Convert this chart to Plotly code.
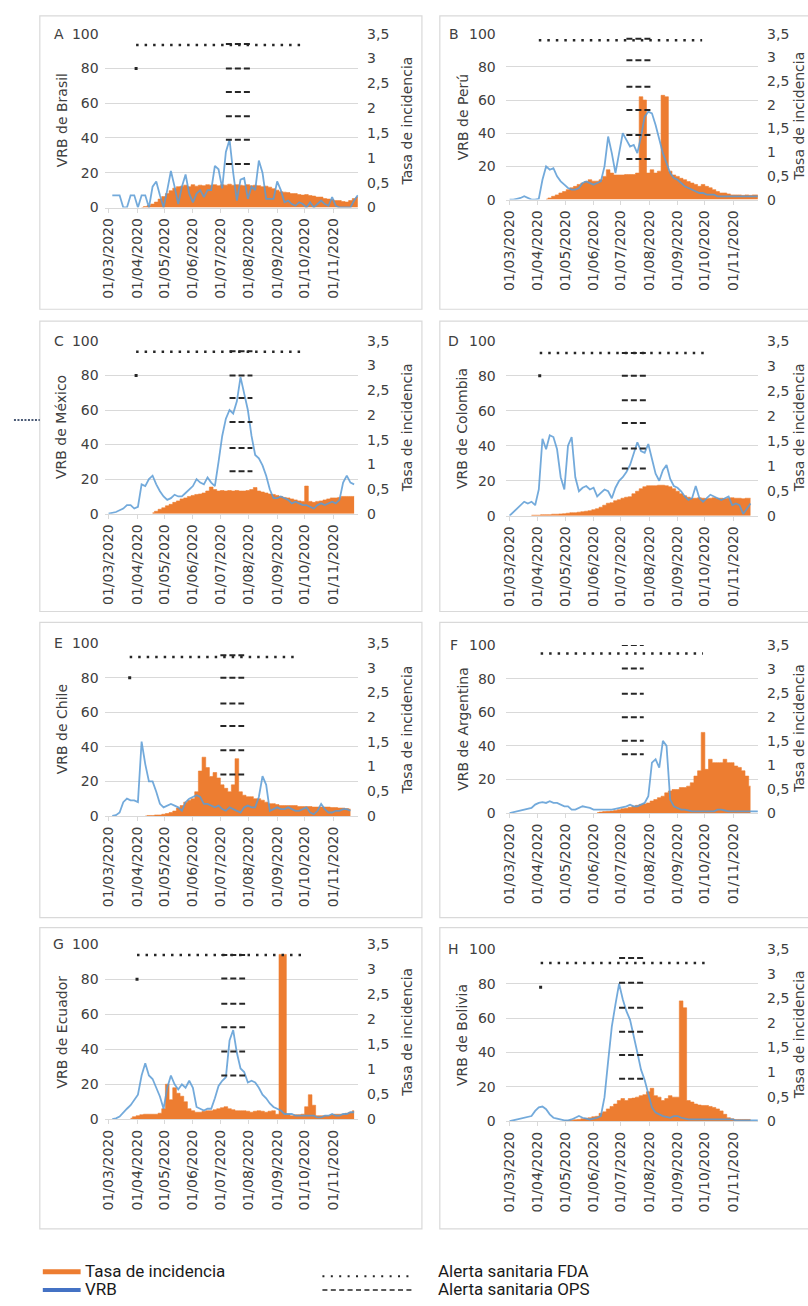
import pandas as pd
import plotly.graph_objects as go

N = 70
# 4-day sampling grid, 26/02/2020 .. 28/11/2020
dates = pd.date_range("2020-02-26", periods=N, freq="4D")
month_ticks = pd.date_range("2020-03-01", "2020-11-01", freq="MS")


def pad(first, vals):
    return [None] * first + list(vals) + [None] * (N - first - len(vals))


letters = ["A", "B", "C", "D", "E", "F", "G", "H"]
countries = ["Brasil", "Perú", "México", "Colombia", "Chile", "Argentina", "Ecuador", "Bolivia"]

# ---- VRB (left axis, 0-100) ----
vrb_brasil = pad(2, [7, 7, 7, 0, 0, 7, 7, 0, 7, 7, 0, 12, 15, 7, 0, 10, 21, 12, 2, 12,
                     19, 8, 3, 8, 10, 6, 10, 10, 24, 22, 11, 32, 39, 20, 4, 16, 17, 5, 12, 10,
                     27, 20, 5, 5, 5, 15, 10, 3, 4, 2, 1, 3, 2, 0, 3, 0, 2, 4, 2, 1,
                     6, 1, 0, 0, 0, 0, 4, 7])
vrb_peru = pad(1, [0, 0, 0.5, 1, 2, 1, 0, 0, 0.5, 12, 20, 18, 19, 14, 11, 9, 7, 6, 6, 7,
                   10, 11, 10, 9, 10, 11, 20, 38, 28, 16, 28, 40, 36, 32, 33, 28, 38, 50, 53, 52,
                   45, 36, 28, 22, 16, 13, 12, 10, 8, 7, 6, 5, 4, 4, 3, 3, 3, 2, 2, 2,
                   2, 2, 2, 2, 2, 2, 2, 2, 2])
vrb_mexico = pad(1, [0, 0.5, 1, 2, 3, 5, 5, 3, 4, 17, 16, 20, 22, 17, 13, 10, 8, 9, 11, 10,
                     10, 12, 14, 16, 20, 18, 17, 21, 18, 16, 30, 45, 55, 60, 58, 65, 79, 70, 60, 45,
                     34, 32, 28, 22, 14, 9, 9, 10, 9, 8, 6, 7, 6, 5, 5, 4, 3, 5, 6, 5,
                     6, 7, 6, 8, 18, 22, 18, 17])
vrb_colombia = pad(1, [0, 2, 4, 6, 8, 7, 8, 6, 15, 44, 38, 46, 45, 38, 22, 15, 40, 45, 22, 14,
                       16, 17, 15, 16, 11, 13, 15, 14, 10, 16, 20, 22, 25, 29, 35, 42, 37, 36, 41, 32,
                       24, 20, 26, 29, 21, 17, 16, 14, 11, 9, 10, 17, 10, 8, 10, 12, 11, 10, 9, 10,
                       11, 6, 7, 6, 1, 4, 7])
vrb_chile = pad(2, [0, 0.5, 2, 8, 10, 9, 9, 8, 43, 30, 20, 20, 14, 7, 5, 6, 7, 6, 5,
                    3, 8, 10, 11, 12, 11, 7, 7, 6, 5, 6, 4, 3, 5, 4, 3, 2, 5, 6, 5,
                    5, 11, 23, 18, 3, 4, 5, 4, 4, 5, 4, 3, 3, 4, 5, 2, 1, 3, 7, 4,
                    2, 2, 3, 3, 4, 4, 3])
vrb_argentina = pad(1, [0, 0.5, 1, 1.5, 2, 2.5, 3, 5, 6, 6.5, 6, 7, 6, 6, 5, 4, 4, 2, 2, 3,
                        4, 3.5, 3, 2, 2, 2, 2, 2, 2, 2.5, 3, 3.5, 4, 5, 4, 4, 5, 6, 10, 30,
                        32, 27, 43, 40, 8, 4, 3, 2, 2, 1.5, 1, 1, 1, 1, 1, 1, 1, 2, 2, 1.5,
                        1, 1, 1, 1, 1, 1, 1, 1, 1])
vrb_ecuador = pad(2, [0, 0.5, 1.5, 4, 6, 8, 11, 14, 25, 32, 25, 23, 18, 13, 6, 18, 25, 20, 17,
                      20, 18, 22, 18, 7, 6, 5, 6, 6, 12, 19, 22, 24, 45, 51, 38, 29, 27, 21, 22,
                      21, 18, 14, 12, 9, 7, 6, 5, 3, 3, 3, 2, 2, 2, 2, 2, 2, 1, 1, 2,
                      2, 3, 2, 2, 3, 3, 4, 4])
vrb_bolivia = pad(1, [0, 0.5, 1, 1.5, 2, 2.5, 3, 6, 8, 8.5, 7, 4, 2, 1.5, 1, 0.5, 0.5, 1, 2, 3,
                      2, 1.5, 1, 1.5, 2, 3, 14, 35, 55, 68, 80, 71, 64, 59, 50, 40, 30, 24, 16, 8,
                      5, 4, 3, 2.5, 2, 3, 3, 2, 1.5, 1, 1, 1, 1, 1, 1, 1, 1, 1, 1, 1,
                      1, 1, 0.5, 0.5, 0.5, 0.5, 0.5, 0.5, 0.5])

# ---- Tasa de incidencia (right axis, 0-3.5) ----
tasa_brasil = pad(10, [0.0, 0.02, 0.04, 0.07, 0.11, 0.17, 0.22, 0.28, 0.34, 0.39,
                       0.42, 0.43, 0.45, 0.42, 0.46, 0.43, 0.45, 0.44, 0.46, 0.45,
                       0.46, 0.44, 0.46, 0.45, 0.47, 0.45, 0.46, 0.45, 0.44, 0.46,
                       0.44, 0.45, 0.44, 0.42, 0.43, 0.41, 0.38, 0.35, 0.32, 0.31,
                       0.30, 0.28, 0.28, 0.26, 0.25, 0.26, 0.24, 0.23, 0.21, 0.21,
                       0.18, 0.17, 0.16, 0.14, 0.14, 0.12, 0.11, 0.14, 0.18, 0.21])
tasa_peru = pad(11, [0.01, 0.035, 0.07, 0.1, 0.14, 0.17, 0.21, 0.25, 0.28, 0.32,
                     0.35, 0.38, 0.42, 0.39, 0.39, 0.42, 0.49, 0.63, 0.56, 0.52,
                     0.52, 0.52, 0.53, 0.53, 0.53, 0.56, 2.17, 2.1, 0.56, 0.63,
                     0.56, 0.6, 2.2, 2.17, 0.6, 0.52, 0.49, 0.45, 0.42, 0.38,
                     0.35, 0.32, 0.28, 0.32, 0.28, 0.25, 0.21, 0.17, 0.14, 0.14,
                     0.12, 0.1, 0.1, 0.1, 0.09, 0.1, 0.09, 0.1, 0.1])
tasa_mexico = pad(13, [0.02, 0.05, 0.09, 0.12, 0.16, 0.19, 0.23, 0.26,
                       0.3, 0.32, 0.35, 0.37, 0.39, 0.4, 0.42, 0.46, 0.54, 0.49,
                       0.46, 0.47, 0.46, 0.47, 0.46, 0.47, 0.46, 0.46, 0.47, 0.49,
                       0.53, 0.46, 0.44, 0.42, 0.4, 0.39, 0.37, 0.35, 0.33, 0.32,
                       0.3, 0.28, 0.26, 0.25, 0.56, 0.25, 0.23, 0.25, 0.26, 0.28,
                       0.3, 0.32, 0.32, 0.33, 0.35, 0.35, 0.35, 0.35])
tasa_colombia = pad(7, [0.01, 0.01, 0.01, 0.02,
                        0.02, 0.02, 0.03, 0.03, 0.035, 0.04, 0.05, 0.06, 0.06, 0.07,
                        0.08, 0.09, 0.1, 0.12, 0.14, 0.17, 0.21, 0.25, 0.26, 0.3,
                        0.32, 0.35, 0.37, 0.38, 0.44, 0.49, 0.54, 0.58, 0.6, 0.6,
                        0.6, 0.61, 0.61, 0.6, 0.58, 0.54, 0.49, 0.44, 0.4, 0.37,
                        0.35, 0.35, 0.36, 0.35, 0.34, 0.35, 0.36, 0.35, 0.35, 0.34,
                        0.35, 0.36, 0.35, 0.35, 0.34, 0.35, 0.35])
tasa_chile = pad(11, [0, 0.01, 0.01, 0.02, 0.02, 0.035, 0.05, 0.07, 0.1, 0.16,
                      0.21, 0.28, 0.32, 0.35, 0.49, 0.91, 1.19, 0.98, 0.8, 0.88,
                      0.77, 0.63, 0.56, 0.49, 0.63, 1.16, 0.49, 0.42, 0.39, 0.39,
                      0.35, 0.35, 0.32, 0.28, 0.25, 0.25, 0.23, 0.21, 0.21, 0.21,
                      0.21, 0.21, 0.19, 0.19, 0.19, 0.19, 0.18, 0.18, 0.18, 0.18,
                      0.18, 0.17, 0.17, 0.16, 0.16, 0.15, 0.14])
tasa_argentina = pad(25, [0.01, 0.02, 0.03, 0.035, 0.04, 0.05,
                          0.07, 0.09, 0.1, 0.12, 0.14, 0.16, 0.18, 0.19, 0.21, 0.25,
                          0.28, 0.32, 0.35, 0.42, 0.46, 0.49, 0.49, 0.53, 0.53, 0.56,
                          0.63, 0.77, 0.88, 1.68, 0.91, 1.12, 1.05, 1.05, 1.05, 1.12,
                          1.05, 1.05, 0.98, 0.95, 0.88, 0.77, 0.56])
tasa_ecuador = pad(7, [0.02, 0.05, 0.07, 0.09,
                       0.1, 0.1, 0.1, 0.1, 0.12, 0.21, 0.7, 0.39, 0.63, 0.52,
                       0.46, 0.35, 0.21, 0.17, 0.14, 0.14, 0.16, 0.17, 0.17, 0.19,
                       0.21, 0.23, 0.25, 0.21, 0.19, 0.17, 0.17, 0.17, 0.16, 0.14,
                       0.16, 0.17, 0.16, 0.14, 0.16, 0.17, 0.1, 3.3, 3.3, 0.1,
                       0.07, 0.09, 0.09, 0.1, 0.25, 0.49, 0.28, 0.07, 0.07, 0.07,
                       0.07, 0.09, 0.1, 0.1, 0.1, 0.12, 0.14, 0.17])
tasa_bolivia = pad(16, [0.01, 0.01, 0.02, 0.03, 0.035,
                        0.05, 0.06, 0.07, 0.09, 0.1, 0.16, 0.19, 0.25, 0.3, 0.35,
                        0.42, 0.46, 0.42, 0.46, 0.47, 0.49, 0.52, 0.54, 0.6, 0.67,
                        0.52, 0.49, 0.42, 0.46, 0.52, 0.49, 0.49, 2.45, 2.31, 0.42,
                        0.39, 0.35, 0.33, 0.32, 0.32, 0.3, 0.28, 0.25, 0.21, 0.14,
                        0.07, 0.05, 0.035, 0.035, 0.035, 0.035, 0.035])

vrb = [vrb_brasil, vrb_peru, vrb_mexico, vrb_colombia, vrb_chile, vrb_argentina, vrb_ecuador, vrb_bolivia]
tasa = [tasa_brasil, tasa_peru, tasa_mexico, tasa_colombia, tasa_chile, tasa_argentina, tasa_ecuador, tasa_bolivia]

# ---- Alerts ----
fda_level = [93.5, 96, 93.7, 93, 92, 95, 94, 92]
fda_start = ["2020-03-31", "2020-04-02", "2020-03-31", "2020-04-03", "2020-03-24", "2020-04-04", "2020-04-01", "2020-04-04"]
fda_end = ["2020-09-30", "2020-09-28", "2020-09-30", "2020-10-03", "2020-09-24", "2020-09-29", "2020-10-01", "2020-10-04"]
fda_dot = [80, None, 80, 80, 80, None, 80, 78]
ops_start = ["2020-07-07", "2020-07-07", "2020-07-11", "2020-07-02", "2020-07-01", "2020-07-02", "2020-07-02", "2020-06-29"]
ops_end = ["2020-08-03", "2020-08-05", "2020-08-05", "2020-07-30", "2020-07-27", "2020-07-26", "2020-07-28", "2020-07-26"]
ops_levels = [
    [25, 39, 52.5, 66.5, 80, 94],
    [24.5, 39, 54, 68, 84, 97],
    [24.6, 38, 53, 67, 80, 94],
    [27, 38.5, 53, 66, 80, 93],
    [24, 38, 52, 65, 80, 93],
    [35, 43, 57, 71, 86, 100],
    [25, 38.7, 52.6, 66, 80.5, 94],
    [24.7, 38.5, 52, 66, 80.5, 95],
]

# ---- layout geometry (pixels) ----
W, H = 808, 1306
cols = [dict(x0=101, x1=356, bx0=36, bx1=420, letter=55, ltitle=58, rtitle=405, ylen=2),
        dict(x0=504, x1=758, bx0=438, bx1=840, letter=452, ltitle=461, rtitle=799, ylen=6)]
rows = [dict(y0=26, y1=202, by0=8, by1=305), dict(y0=26, y1=194, by0=8, by1=305),
        dict(y0=337, y1=512, by0=317, by1=611), dict(y0=337, y1=514, by0=317, by1=611),
        dict(y0=643, y1=818, by0=622, by1=921), dict(y0=645, y1=815, by0=622, by1=921),
        dict(y0=948, y1=1125, by0=931, by1=1236), dict(y0=953, y1=1127, by0=931, by1=1236)]


def fx(p):
    return p / W


def fy(p):
    return 1 - p / H


ORANGE = "#ED7D31"
BLUE = "rgba(91,155,213,0.85)"
TXT = "#404040"
GRID = "#d9d9d9"
FONT = "DejaVu Sans"
XRANGE = ["2020-02-25 12:00", "2020-11-28 12:00"]

fig = go.Figure()
layout = {}
annotations = []
shapes = []

for k in range(8):
    c = cols[k % 2]
    r = rows[k]
    xid = "x" if k == 0 else f"x{k+1}"
    xkey = "xaxis" if k == 0 else f"xaxis{k+1}"
    bnum, onum = 2 * k + 1, 2 * k + 2
    bid = "y" if bnum == 1 else f"y{bnum}"
    bkey = "yaxis" if bnum == 1 else f"yaxis{bnum}"
    oid, okey = f"y{onum}", f"yaxis{onum}"

    fig.add_trace(go.Scatter(x=dates, y=tasa[k], xaxis=xid, yaxis=bid, mode="lines",
                             line=dict(color=ORANGE, width=0.6, shape="hvh"), fill="tozeroy",
                             fillcolor=ORANGE, showlegend=False, hoverinfo="skip"))
    fig.add_trace(go.Scatter(x=dates, y=vrb[k], xaxis=xid, yaxis=oid, mode="lines",
                             line=dict(color=BLUE, width=1.8), showlegend=False))
    fig.add_trace(go.Scatter(x=[fda_start[k], fda_end[k]], y=[fda_level[k], fda_level[k]],
                             xaxis=xid, yaxis=oid, mode="lines",
                             line=dict(color="#262626", width=2.5, dash="2.5px,6px"), showlegend=False))
    if fda_dot[k] is not None:
        fig.add_trace(go.Scatter(x=[fda_start[k]], y=[fda_dot[k]], xaxis=xid, yaxis=oid, mode="markers",
                                 marker=dict(color="#262626", size=3, symbol="square"), showlegend=False))
    ox, oy = [], []
    for lv in ops_levels[k]:
        ox += [ops_start[k], ops_end[k], None]
        oy += [lv, lv, None]
    fig.add_trace(go.Scatter(x=ox, y=oy, xaxis=xid, yaxis=oid, mode="lines",
                             line=dict(color="#262626", width=2, dash="6px,3px"), showlegend=False))

    layout[xkey] = dict(domain=[fx(c["x0"]), fx(c["x1"])], anchor=bid, type="date", range=XRANGE,
                        tickvals=list(month_ticks), tickformat="%d/%m/%Y", tickangle=-90,
                        showgrid=False, showline=True, linecolor=GRID, ticks="outside", ticklen=4,
                        tickcolor=GRID, tickfont=dict(size=14, color=TXT, family=FONT), zeroline=False)
    layout[bkey] = dict(domain=[fy(r["y1"]), fy(r["y0"])], anchor=xid, side="right", range=[0, 3.5],
                        dtick=0.5, tick0=0, showgrid=False, zeroline=False, showline=False,
                        ticks="outside", ticklen=5, tickcolor="rgba(0,0,0,0)",
                        tickfont=dict(size=14, color=TXT, family=FONT))
    layout[okey] = dict(overlaying=bid, anchor=xid, side="left", range=[0, 100], dtick=20, tick0=0,
                        showgrid=True, gridcolor=GRID, gridwidth=1, zeroline=False, showline=False,
                        ticks="outside", ticklen=c["ylen"], tickcolor="rgba(0,0,0,0)",
                        tickfont=dict(size=14, color=TXT, family=FONT))

    ymid = (r["y0"] + r["y1"]) / 2
    annotations.append(dict(x=fx(c["letter"]), y=fy(r["y0"]), xref="paper", yref="paper", text=letters[k],
                            showarrow=False, xanchor="center", yanchor="middle",
                            font=dict(size=14, color=TXT, family=FONT)))
    annotations.append(dict(x=fx(c["ltitle"]), y=fy(ymid), xref="paper", yref="paper",
                            text="VRB de " + countries[k], textangle=-90, showarrow=False,
                            xanchor="center", yanchor="middle", font=dict(size=14, color=TXT, family=FONT)))
    annotations.append(dict(x=fx(c["rtitle"]), y=fy(ymid), xref="paper", yref="paper",
                            text="Tasa de incidencia", textangle=-90, showarrow=False,
                            xanchor="center", yanchor="middle", font=dict(size=14, color=TXT, family=FONT)))
    shapes.append(dict(type="rect", xref="paper", yref="paper", x0=fx(c["bx0"]), x1=fx(c["bx1"]),
                       y0=fy(r["by1"]), y1=fy(r["by0"]), line=dict(color=GRID, width=1.2),
                       fillcolor="rgba(0,0,0,0)", layer="below"))

# stray dotted mark left of panel C
shapes.append(dict(type="line", xref="paper", yref="paper", x0=fx(10), x1=fx(36), y0=fy(417), y1=fy(417),
                   line=dict(color="#4a5a75", width=2, dash="2px,1.5px")))

# ---- legend (drawn) ----
LFONT = dict(family="Roboto", size=17, color="#1a1a1a")
shapes.append(dict(type="rect", xref="paper", yref="paper", x0=fx(39), x1=fx(77), y0=fy(1282), y1=fy(1277),
                   line=dict(width=0), fillcolor=ORANGE))
shapes.append(dict(type="rect", xref="paper", yref="paper", x0=fx(39), x1=fx(77), y0=fy(1300), y1=fy(1296),
                   line=dict(width=0), fillcolor="#4472C4"))
shapes.append(dict(type="line", xref="paper", yref="paper", x0=fx(320), x1=fx(412), y0=fy(1284), y1=fy(1284),
                   line=dict(color="#262626", width=2, dash="2px,6.4px")))
shapes.append(dict(type="line", xref="paper", yref="paper", x0=fx(320), x1=fx(412), y0=fy(1298), y1=fy(1298),
                   line=dict(color="#262626", width=1.5, dash="5px,3.4px")))
legend_labels = [("Tasa de incidencia", 79, 1279), ("VRB", 79, 1297),
                 ("Alerta sanitaria FDA", 434, 1279), ("Alerta sanitaria OPS", 434, 1297)]
for txt, lx, ly in legend_labels:
    annotations.append(dict(x=fx(lx), y=fy(ly), xref="paper", yref="paper", text=txt, showarrow=False,
                            xanchor="left", yanchor="middle", font=LFONT))

fig.update_layout(width=W, height=H, margin=dict(l=0, r=0, t=0, b=0, pad=0),
                  paper_bgcolor="white", plot_bgcolor="white", showlegend=False,
                  separators=",.", font=dict(family=FONT, color=TXT),
                  annotations=annotations, shapes=shapes, **layout)

fig.write_html("out.html", config={"displayModeBar": False},
               post_script="document.body.style.margin='0';")
